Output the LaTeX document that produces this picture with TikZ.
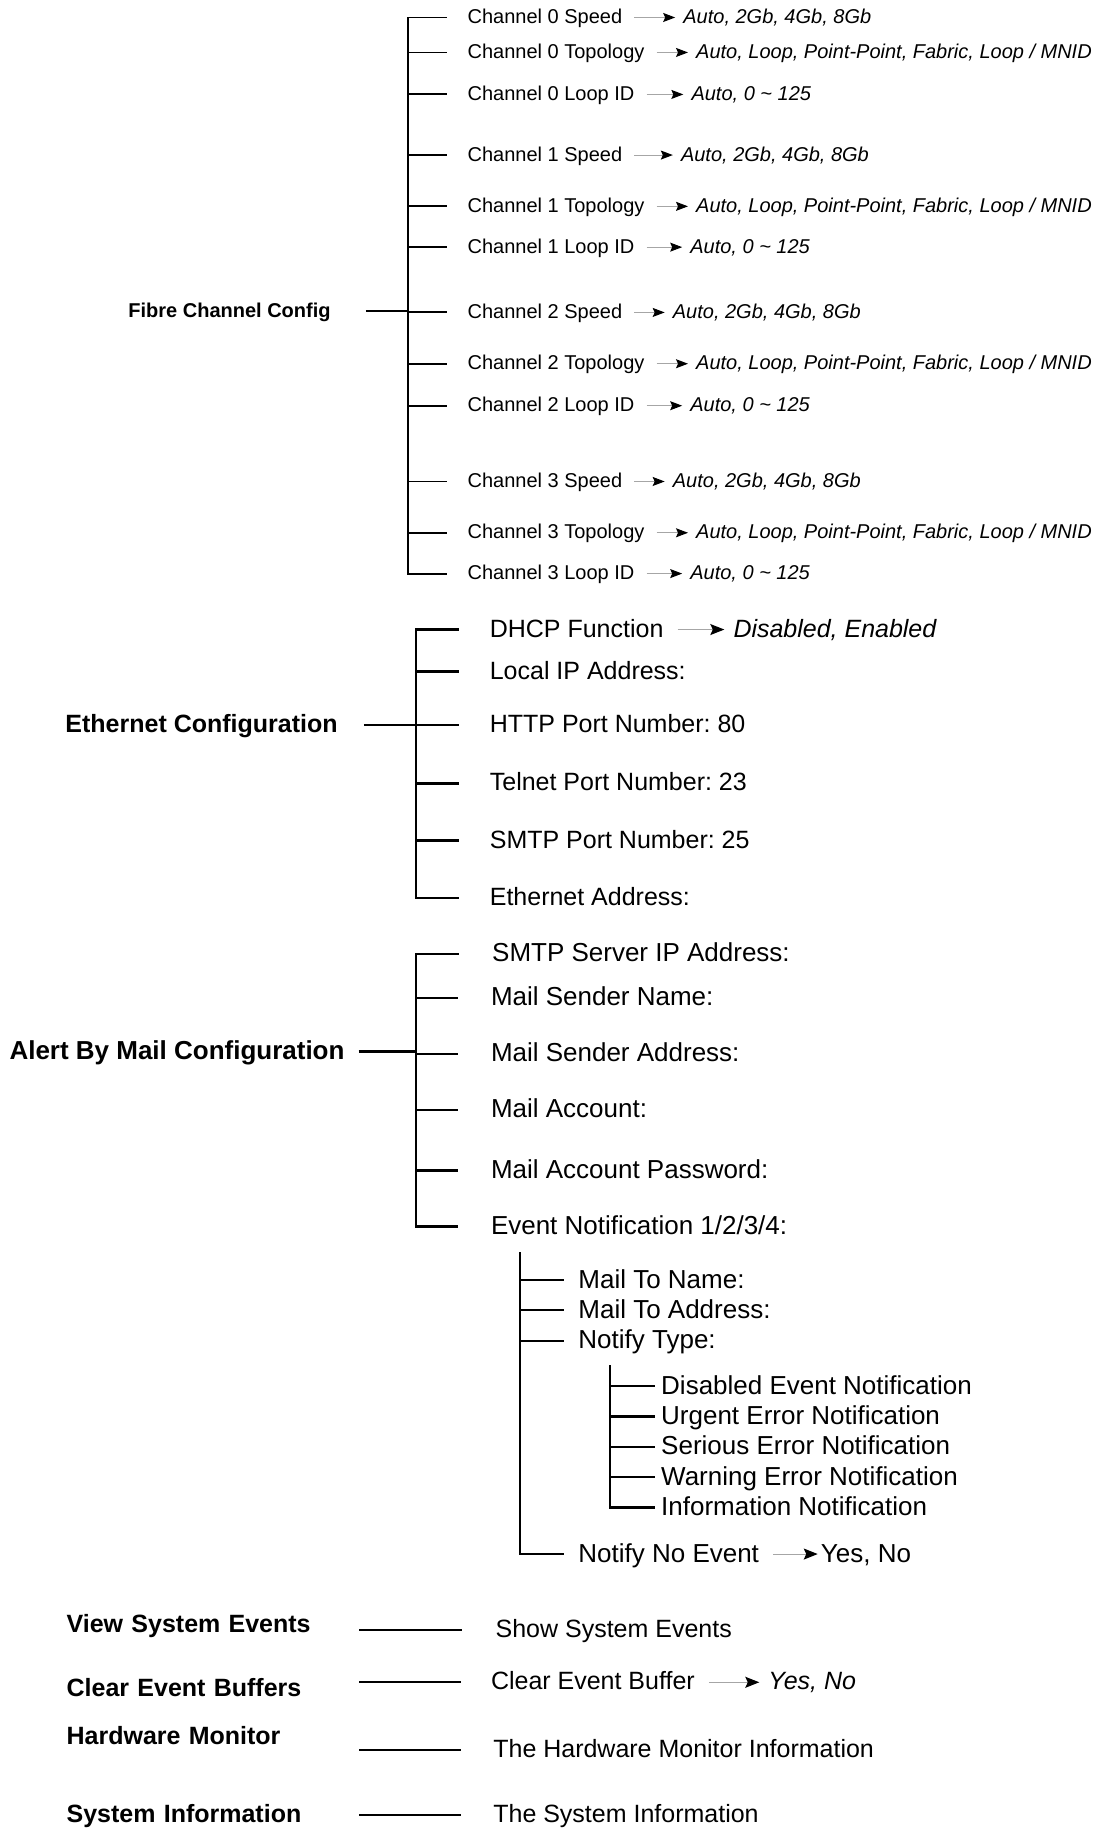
\documentclass[tikz,border=0pt]{standalone}
\usepackage{fontspec}
\setmainfont{Liberation Sans}
\usetikzlibrary{arrows.meta}
\frenchspacing
\tikzset{
  branch/.style={draw=black,line width=2.2pt},
  fcbranch/.style={draw=black,line width=1.9pt},
  pick/.style={draw=black!35,line width=1pt,shorten <=12pt,shorten >=8pt,
    -{Stealth[color=black,length=12pt,width=9pt,inset=2pt]}},
  bigpick/.style={draw=black!35,line width=1.1pt,shorten <=14pt,shorten >=9pt,
    -{Stealth[color=black,length=14pt,width=11pt,inset=2.5pt]}},
  fcitem/.style={anchor=west,inner sep=0pt,font=\fontsize{20}{24}\selectfont,
    text height=15pt,text depth=3pt},
  fcval/.style={fcitem,font=\fontsize{20}{24}\selectfont\itshape},
  fchead/.style={fcitem,font=\fontsize{20}{24}\selectfont\bfseries},
  item/.style={anchor=west,inner sep=0pt,font=\fontsize{25}{30}\selectfont,
    text height=19pt,text depth=4pt},
  itemval/.style={item,font=\fontsize{25}{30}\selectfont\itshape},
  head/.style={item,font=\fontsize{25}{30}\selectfont\bfseries},
  mailitem/.style={anchor=west,inner sep=0pt,font=\fontsize{26}{31}\selectfont,
    text height=20pt,text depth=4pt},
  mailhead/.style={mailitem,font=\fontsize{26}{31}\selectfont\bfseries},
  menu/.style={head,text width=292.7pt},
}

\begin{document}
\begin{tikzpicture}[x=1.1663pt,y=-1.1663pt]
  \useasboundingbox (0,0) rectangle (944,1568);

  % fibre channel
  \coordinate (fcX) at (350,0);
  \node[fchead] (fcc) at (110,267) {Fibre Channel Config};
  \node[fcitem] (c0s) at (401,15) {Channel 0 Speed};
  \node[fcitem] (c0t) at (401,45) {Channel 0 Topology};
  \node[fcitem] (c0l) at (401,81) {Channel 0 Loop ID};
  \node[fcitem] (c1s) at (401,133) {Channel 1 Speed};
  \node[fcitem] (c1t) at (401,177) {Channel 1 Topology};
  \node[fcitem] (c1l) at (401,212) {Channel 1 Loop ID};
  \node[fcitem] (c2s) at (401,268) {Channel 2 Speed};
  \node[fcitem] (c2t) at (401,312) {Channel 2 Topology};
  \node[fcitem] (c2l) at (401,348) {Channel 2 Loop ID};
  \node[fcitem] (c3s) at (401,413) {Channel 3 Speed};
  \node[fcitem] (c3t) at (401,457) {Channel 3 Topology};
  \node[fcitem] (c3l) at (401,492) {Channel 3 Loop ID};

  \node[fcval] (c0sv) at (586,15) {Auto, 2Gb, 4Gb, 8Gb};
  \node[fcval] (c0tv) at (597,45) {Auto, Loop, Point-Point, Fabric, Loop / MNID};
  \node[fcval] (c0lv) at (593,81) {Auto, 0 \textasciitilde{} 125};
  \node[fcval] (c1sv) at (584,133) {Auto, 2Gb, 4Gb, 8Gb};
  \node[fcval] (c1tv) at (597,177) {Auto, Loop, Point-Point, Fabric, Loop / MNID};
  \node[fcval] (c1lv) at (592,212) {Auto, 0 \textasciitilde{} 125};
  \node[fcval] (c2sv) at (577,268) {Auto, 2Gb, 4Gb, 8Gb};
  \node[fcval] (c2tv) at (597,312) {Auto, Loop, Point-Point, Fabric, Loop / MNID};
  \node[fcval] (c2lv) at (592,348) {Auto, 0 \textasciitilde{} 125};
  \node[fcval] (c3sv) at (577,413) {Auto, 2Gb, 4Gb, 8Gb};
  \node[fcval] (c3tv) at (597,457) {Auto, Loop, Point-Point, Fabric, Loop / MNID};
  \node[fcval] (c3lv) at (592,492) {Auto, 0 \textasciitilde{} 125};

  \draw[fcbranch,line cap=rect] (fcX |- c0s.west) -- (fcX |- c3l.west);
  \draw[fcbranch,shorten <=35pt] (fcc.east) -- (fcc.east -| fcX);
  \foreach \n in {c0s,c0t,c0l,c1s,c1t,c1l,c2s,c2t,c2l,c3s,c3t,c3l}
    \draw[fcbranch,shorten >=21pt] (fcX |- \n.west) -- (\n.west);
  \foreach \n in {c0s,c0t,c0l,c1s,c1t,c1l,c2s,c2t,c2l,c3s,c3t,c3l}
    \draw[pick] (\n.east) -- (\n v.west);

  % ethernet
  \coordinate (etX) at (357,0);
  \node[head] (ecfg) at (56,622) {Ethernet Configuration};
  \node[item] (dhcp) at (420,540) {DHCP Function};
  \node[itemval] (dhcpv) at (629,540) {Disabled, Enabled};
  \node[item] (lip) at (420,576) {Local IP Address:};
  \node[item] (http) at (420,622) {HTTP Port Number: 80};
  \node[item] (tel) at (420,672) {Telnet Port Number: 23};
  \node[item] (smtp) at (420,721) {SMTP Port Number: 25};
  \node[item] (eth) at (420,770) {Ethernet Address:};

  \draw[branch,line cap=rect] (etX |- dhcp.west) -- (etX |- eth.west);
  \draw[branch,shorten <=26pt] (ecfg.east) -- (ecfg.east -| etX);
  \foreach \n in {dhcp,lip,http,tel,smtp,eth}
    \draw[branch,shorten >=31pt] (etX |- \n.west) -- (\n.west);
  \draw[bigpick] (dhcp) -- (dhcpv);

  % alert by mail
  \coordinate (alX) at (357,0);
  \node[mailhead] (amc) at (8,902) {Alert By Mail Configuration};
  \node[mailitem] (srv) at (422,818) {SMTP Server IP Address:};
  \node[mailitem] (msn) at (421,856) {Mail Sender Name:};
  \node[mailitem] (msa) at (421,904) {Mail Sender Address:};
  \node[mailitem] (mac) at (421,952) {Mail Account:};
  \node[mailitem] (map) at (421,1004) {Mail Account Password:};
  \node[mailitem] (evn) at (421,1052) {Event Notification 1/2/3/4:};

  \draw[branch,line cap=rect] (alX |- srv.west) -- (alX |- evn.west);
  \draw[branch,shorten <=14pt] (amc.east) -- (amc.east -| alX);
  \foreach \n in {srv,msn,msa,mac,map,evn}
    \draw[branch,shorten >=33pt] (alX |- \n.west) -- (\n.west);

  % event notification
  \coordinate (enTop) at (446,1075);
  \node[mailitem] (mtn) at (496,1098) {Mail To Name:};
  \node[mailitem] (mta) at (496,1124) {Mail To Address:};
  \node[mailitem] (nty) at (496,1150) {Notify Type:};
  \node[mailitem] (nne) at (496,1333) {Notify No Event};
  \node[mailitem] (nnev) at (704,1333) {Yes, No};

  \draw[branch,line cap=rect] (enTop) -- (enTop |- nne.west);
  \foreach \n in {mtn,mta,nty,nne}
    \draw[branch,shorten >=14pt] (enTop |- \n.west) -- (\n.west);
  \draw[bigpick,shorten >=3pt] (nne) -- (nnev);

  % notify type
  \coordinate (ntTop) at (523,1172);
  \node[mailitem] (den) at (567,1189) {Disabled Event Notification};
  \node[mailitem] (uen) at (567,1215) {Urgent Error Notification};
  \node[mailitem] (sen) at (567,1241) {Serious Error Notification};
  \node[mailitem] (wen) at (567,1267) {Warning Error Notification};
  \node[mailitem] (inf) at (567,1293) {Information Notification};

  \draw[branch,line cap=rect] (ntTop) -- (ntTop |- inf.west);
  \foreach \n in {den,uen,sen,wen,inf}
    \draw[branch,shorten >=6pt] (ntTop |- \n.west) -- (\n.west);

  % single menus
  \node[menu] (vse) at (57,1394) {View System Events};
  \node[menu] (ceb) at (57,1449) {Clear Event Buffers};
  \node[menu] (hwm) at (57,1490) {Hardware Monitor};
  \node[menu] (sys) at (57,1557) {System Information};
  \node[item] (sse) at (425,1398) {Show System Events};
  \node[item] (cbf) at (421,1443) {Clear Event Buffer};
  \node[itemval] (cbfv) at (659,1443) {Yes, No};
  \node[item] (hmi) at (423,1501) {The Hardware Monitor Information};
  \node[item] (sif) at (423,1557) {The System Information};

  \draw[branch,shorten >=33pt] (vse.east |- sse.west) -- (sse.west);
  \draw[branch,shorten >=30pt] (ceb.east |- cbf.west) -- (cbf.west);
  \draw[branch,shorten >=32pt] (hwm.east |- hmi.west) -- (hmi.west);
  \draw[branch,shorten >=32pt] (sys.east |- sif.west) -- (sif.west);
  \draw[bigpick] (cbf) -- (cbfv);
\end{tikzpicture}
\end{document}
